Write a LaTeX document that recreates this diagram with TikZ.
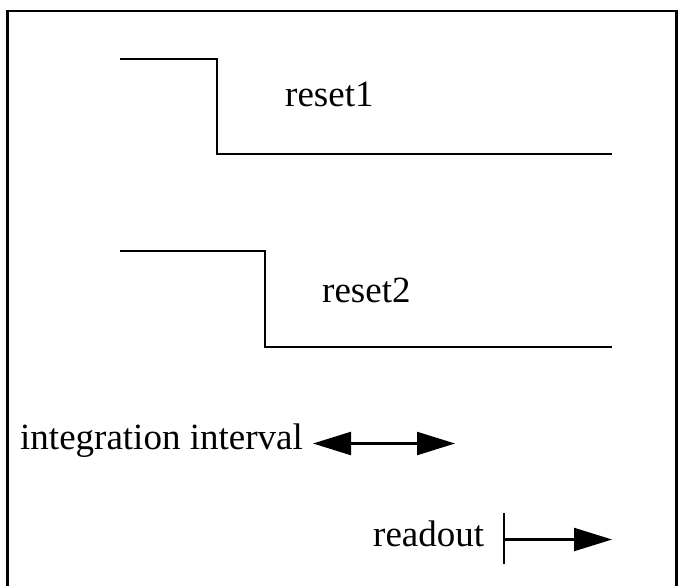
\documentclass[tikz,border=0pt]{standalone}
\usepackage{fontspec}
\setmainfont{Liberation Serif}
\usetikzlibrary{arrows.meta}
\begin{document}
\begin{tikzpicture}[x=1bp,y=-1bp,
  wire/.style={line width=2.3bp, line cap=butt, line join=miter},
  lbl/.style={anchor=base west, inner sep=0pt, font=\fontsize{37bp}{44bp}\selectfont},
  tri/.style={-{Triangle[length=38bp,width=23bp]}},
  dtri/.style={{Triangle[length=38bp,width=23bp]}-{Triangle[length=38bp,width=23bp]}}]
\useasboundingbox (0,0) rectangle (681,586);
% frame (bottom edge lies below the picture)
\draw[wire] (7.5,590) -- (7.5,11) -- (676.5,11) -- (676.5,590);
% reset1 waveform
\draw[wire] (120,59) -- (217,59) -- (217,154) -- (612,154);
\node[lbl] (r1) at (285,107) {reset1};
% reset2 waveform
\draw[wire] (120,251) -- (265,251) -- (265,347) -- (612,347);
\node[lbl] (r2) at (322,302) {reset2};
% integration interval
\node[lbl] (ii) at (20,449) {integration interval};
\coordinate (iL) at (313,443.5);
\coordinate (iR) at (455,443.5);
\draw[wire, dtri] (iL) -- (iR);
% readout
\node[lbl] (ro) at (373,546) {readout};
\coordinate (bT) at (504,513);
\coordinate (bB) at (504,564);
\coordinate (bM) at (504,539.5);
\coordinate (aE) at (612,539.5);
\draw[wire] (bT) -- (bB);
\draw[wire, tri] (bM) -- (aE);
\end{tikzpicture}
\end{document}
